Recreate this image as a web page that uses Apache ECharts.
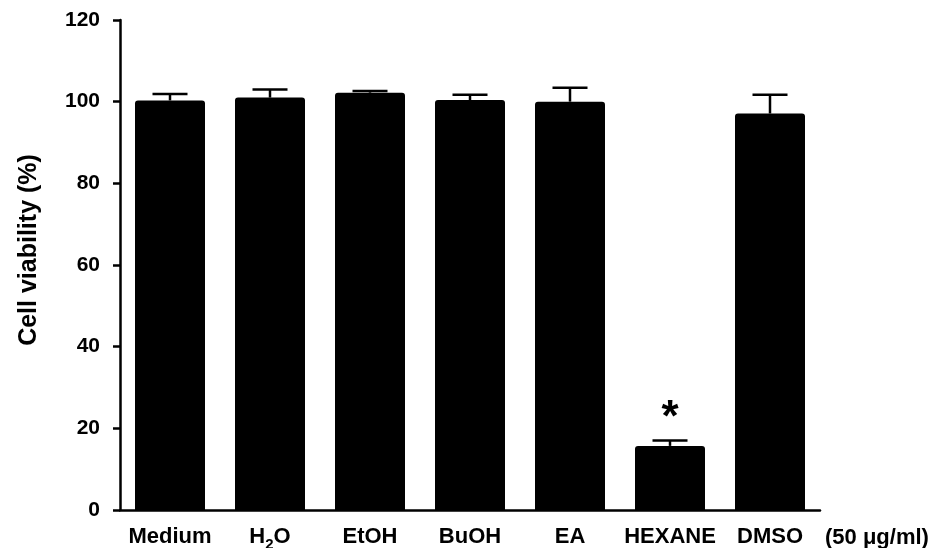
<!DOCTYPE html>
<html><head><meta charset="utf-8">
<script src="https://cdn.jsdelivr.net/npm/echarts@6/dist/echarts.min.js"></script>
<style>html,body{margin:0;padding:0;background:#fff}#c{width:939px;height:548px}</style>
</head><body><div id="c"></div>
<script>
const categories = ['Medium', 'H2O', 'EtOH', 'BuOH', 'EA', 'HEXANE', 'DMSO'];
const viability = [100.3, 101.0, 102.2, 100.4, 100.0, 15.7, 97.1];
const sem = [1.6, 2.0, 0.4, 1.3, 3.4, 1.3, 4.6];
const significant = ['', '', '', '', '', '*', ''];
const yTicks = [0, 20, 40, 60, 80, 100, 120];

const F = '"Liberation Sans", Arial, sans-serif';
const chart = echarts.init(document.getElementById('c'));
const errData = categories.map((c, i) => [i, viability[i], sem[i]]);
chart.setOption({
  animation: false,
  grid: {left: 120, right: 119, top: 20, bottom: 38, containLabel: false, outerBoundsMode: 'none'},
  xAxis: {
    type: 'category', data: categories,
    axisLine: {lineStyle: {color: '#000', width: 2.5}},
    axisTick: {alignWithLabel: true, length: 7, lineStyle: {color: '#000', width: 2.5}},
    axisLabel: {
      interval: 0,
      color: '#000', fontFamily: F, fontWeight: 'bold', fontSize: 22, margin: 16,
      formatter: v => v === 'H2O' ? '{n|H}{s|2}{n|O}' : '{n|' + v + '}',
      rich: {
        n: {fontFamily: F, fontWeight: 'bold', fontSize: 22, lineHeight: 24, verticalAlign: 'top', color: '#000'},
        s: {fontFamily: F, fontWeight: 'bold', fontSize: 15, lineHeight: 15, padding: [11, 0, 0, 0], verticalAlign: 'top', color: '#000'}
      }
    }
  },
  yAxis: {
    type: 'value', min: yTicks[0], max: yTicks[yTicks.length - 1], interval: 20,
    splitLine: {show: false},
    axisLine: {show: true, lineStyle: {color: '#000', width: 2.5}},
    axisTick: {show: true, length: 7, lineStyle: {color: '#000', width: 2.5}},
    axisLabel: {color: '#000', fontFamily: F, fontWeight: 'bold', fontSize: 21, margin: 20}
  },
  series: [
    {
      type: 'bar', data: viability, barWidth: '70%',
      itemStyle: {color: '#000', borderRadius: [3, 3, 0, 0]},
      label: {
        show: true, position: 'top', distance: 5,
        formatter: p => significant[p.dataIndex],
        color: '#000', fontFamily: F, fontWeight: 'bold', fontSize: 44
      }
    },
    {
      type: 'custom', data: errData, z: 5,
      renderItem: (params, api) => {
        const i = api.value(0), v = api.value(1), e = api.value(2);
        const top = api.coord([i, v + e]);
        const base = api.coord([i, v]);
        const hw = 17.5;
        return {
          type: 'group', children: [
            {type: 'line', shape: {x1: top[0], y1: top[1], x2: base[0], y2: base[1]}, style: {stroke: '#000', lineWidth: 2.5}},
            {type: 'line', shape: {x1: top[0] - hw, y1: top[1], x2: top[0] + hw, y2: top[1]}, style: {stroke: '#000', lineWidth: 2.5}}
          ]
        };
      }
    }
  ],
  graphic: [
    {
      type: 'text', x: 29, y: 250, rotation: Math.PI / 2,
      style: {text: 'Cell viability (%)', fill: '#000', font: 'bold 25px ' + F, align: 'center', verticalAlign: 'middle'}
    },
    {
      type: 'text', left: 825, top: 527,
      style: {text: '(50 μg/ml)', fill: '#000', font: 'bold 22px ' + F}
    }
  ]
});
</script></body></html>
